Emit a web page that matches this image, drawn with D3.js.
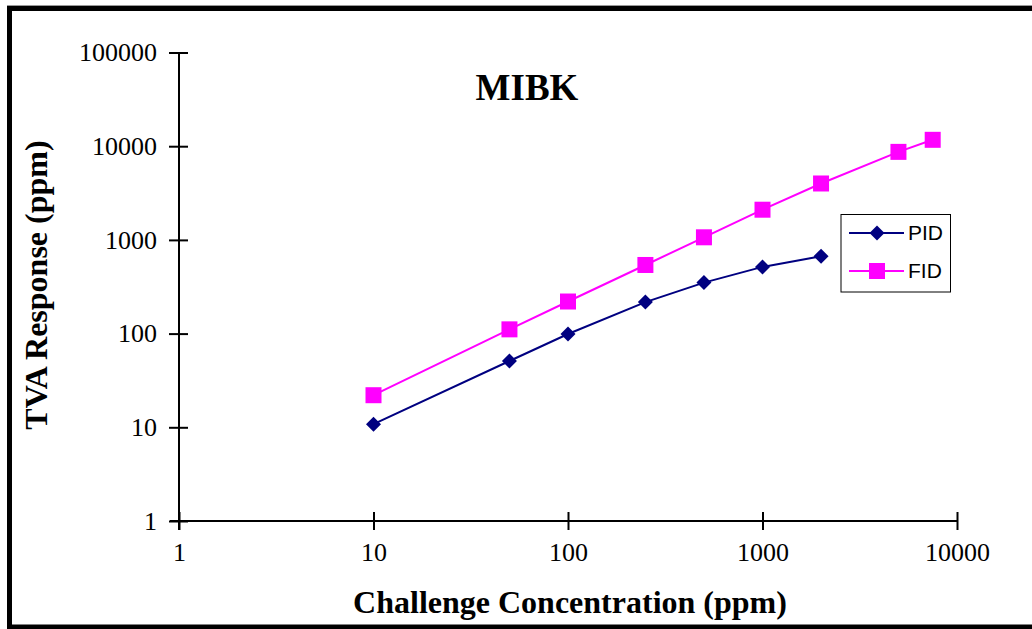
<!DOCTYPE html>
<html>
<head>
<meta charset="utf-8">
<script src="https://cdn.jsdelivr.net/npm/d3@7"></script>
<style>
  html, body { margin: 0; padding: 0; background: #fff; }
  svg { display: block; }
</style>
</head>
<body>
<svg id="chart" width="1032" height="629"></svg>
<script>
// ---- data ----
const pidConc = [10, 50, 100, 250, 500, 1000, 2000];
const pidResp = [10.8, 51, 99, 217, 350, 515, 670];
const fidConc = [10, 50, 100, 250, 500, 1000, 2000, 5000, 7500];
const fidResp = [22, 111, 220, 540, 1066, 2100, 4000, 8700, 11700];
const xTicks = [1, 10, 100, 1000, 10000];
const yTicks = [1, 10, 100, 1000, 10000, 100000];
const seriesNames = ["PID", "FID"];
const seriesColors = ["#000080", "#FF00FF"];

const svg = d3.select("#chart");
const W = 1032, H = 629;

// frame
svg.append("line").attr("x1", 7).attr("x2", W).attr("y1", 5.5).attr("y2", 5.5)
  .attr("stroke", "#999").attr("stroke-width", 1);
svg.append("rect").attr("x", 9.5).attr("y", 8.5).attr("width", W + 20).attr("height", 618.5)
  .attr("fill", "none").attr("stroke", "#000").attr("stroke-width", 5);

const x = d3.scaleLog().domain([1, 10000]).range([179, 957]);
const y = d3.scaleLog().domain([1, 100000]).range([521, 52.5]);

const serif = "'Liberation Serif', 'Times New Roman', serif";
const sans = "'Liberation Sans', Arial, sans-serif";

// y axis
const yAxis = svg.append("g").attr("transform", "translate(179,0)")
  .call(d3.axisLeft(y).tickValues(yTicks).tickFormat(d3.format("d")).tickSize(10).tickPadding(12));
yAxis.select(".domain").remove();
yAxis.append("line").attr("x1", 0).attr("x2", 0).attr("y1", y(100000)).attr("y2", 530)
  .attr("stroke", "#000").attr("stroke-width", 2);
yAxis.selectAll(".tick line").attr("x2", 9).attr("x1", -10).attr("stroke-width", 2);
yAxis.selectAll(".tick text").attr("x", -22).attr("font-family", serif).attr("font-size", 26).attr("fill", "#000");

// x axis
const xAxis = svg.append("g").attr("transform", "translate(0,521)")
  .call(d3.axisBottom(x).tickValues(xTicks).tickFormat(d3.format("d")).tickSize(9).tickPadding(14));
xAxis.select(".domain").remove();
xAxis.append("line").attr("x1", 170).attr("x2", x(10000)).attr("y1", 0).attr("y2", 0)
  .attr("stroke", "#000").attr("stroke-width", 2);
xAxis.selectAll(".tick line").attr("y1", -9).attr("y2", 9).attr("stroke-width", 2);
xAxis.selectAll(".tick text").attr("y", 22).attr("font-family", serif).attr("font-size", 26).attr("fill", "#000");

// axis titles
svg.append("text").attr("x", 570).attr("y", 613).attr("text-anchor", "middle")
  .attr("font-family", serif).attr("font-weight", "bold").attr("font-size", 32)
  .text("Challenge Concentration (ppm)");
svg.append("text").attr("transform", "translate(47,285) rotate(-90)").attr("text-anchor", "middle")
  .attr("font-family", serif).attr("font-weight", "bold").attr("font-size", 32)
  .text("TVA Response (ppm)");

// chart title
svg.append("text").attr("x", 527).attr("y", 100).attr("text-anchor", "middle")
  .attr("font-family", serif).attr("font-weight", "bold").attr("font-size", 37)
  .text("MIBK");

const line = d3.line().x(d => x(d[0])).y(d => y(d[1]));
const pidData = pidConc.map((c, i) => [c, pidResp[i]]);
const fidData = fidConc.map((c, i) => [c, fidResp[i]]);

const diamond = s => `M0,${-s}L${s},0L0,${s}L${-s},0Z`;

// FID
svg.append("path").datum(fidData).attr("d", line).attr("fill", "none")
  .attr("stroke", seriesColors[1]).attr("stroke-width", 2);
svg.selectAll(".fidpt").data(fidData).enter().append("rect")
  .attr("x", d => x(d[0]) - 8).attr("y", d => y(d[1]) - 8)
  .attr("width", 16).attr("height", 16).attr("fill", seriesColors[1]);

// PID
svg.append("path").datum(pidData).attr("d", line).attr("fill", "none")
  .attr("stroke", seriesColors[0]).attr("stroke-width", 2);
svg.selectAll(".pidpt").data(pidData).enter().append("path")
  .attr("transform", d => `translate(${x(d[0])},${y(d[1])})`)
  .attr("d", diamond(7.5)).attr("fill", seriesColors[0]);

// legend
const lg = svg.append("g");
lg.append("rect").attr("x", 841).attr("y", 214.5).attr("width", 109.5).attr("height", 77.5)
  .attr("fill", "#fff").attr("stroke", "#000").attr("stroke-width", 1);
const rowsY = [233, 271];
seriesNames.forEach((n, i) => {
  const yy = rowsY[i];
  lg.append("line").attr("x1", 849).attr("x2", 904).attr("y1", yy).attr("y2", yy)
    .attr("stroke", seriesColors[i]).attr("stroke-width", 2);
  if (i === 0) {
    lg.append("path").attr("transform", `translate(877,${yy})`).attr("d", diamond(7.5)).attr("fill", seriesColors[i]);
  } else {
    lg.append("rect").attr("x", 869).attr("y", yy - 8).attr("width", 16).attr("height", 16).attr("fill", seriesColors[i]);
  }
  lg.append("text").attr("x", 908).attr("y", yy + 7).attr("font-family", sans).attr("font-size", 21)
    .attr("fill", "#000").text(n);
});
</script>
</body>
</html>
